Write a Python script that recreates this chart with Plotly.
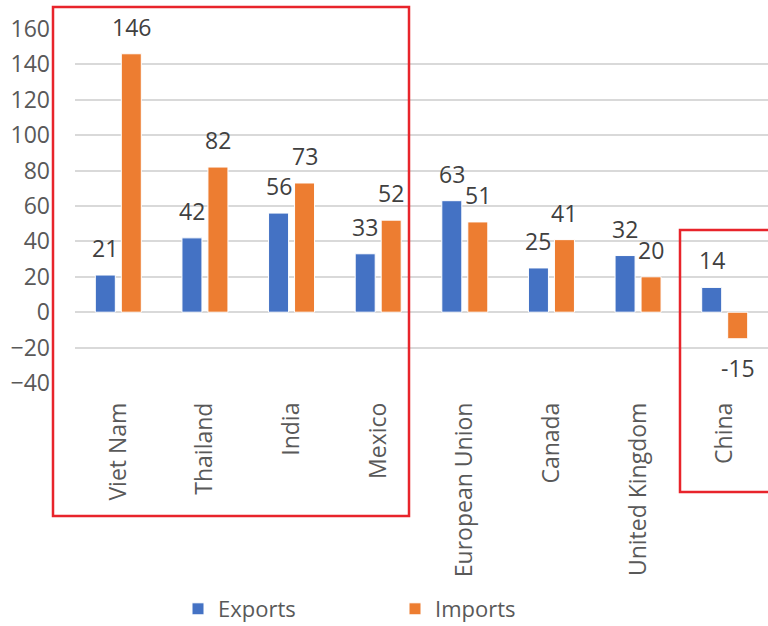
import plotly.graph_objects as go

# Trade change by partner (values shown as data labels)
countries = ["Viet Nam", "Thailand", "India", "Mexico",
             "European Union", "Canada", "United Kingdom", "China"]
exports = [21, 42, 56, 33, 63, 25, 32, 14]
imports = [146, 82, 73, 52, 51, 41, 20, -15]
y_ticks = [-40, -20, 0, 20, 40, 60, 80, 100, 120, 140, 160]

# Figure geometry (pixels)
W, H = 768, 626
ML, MR, MT, MB = 75, 0, 29, 243
PW, PH = W - ML - MR, H - MT - MB

BLUE = "#4472C4"
ORANGE = "#ED7D31"
TXT = "#595959"
LBL = "#404040"
FONT = "Open Sans"

BARGAP = 0.40
GROUPGAP = 0.23

fig = go.Figure()
fig.add_bar(x=countries, y=exports, name="Exports", marker_color=BLUE,
            marker_line=dict(color="white", width=1))
fig.add_bar(x=countries, y=imports, name="Imports", marker_color=ORANGE,
            marker_line=dict(color="white", width=1))

# Data labels placed just outside the end of each bar
cat_w = PW / len(countries)
slot = cat_w * (1 - BARGAP) / 2
annotations = []
for vals, shift in ((exports, -slot / 2), (imports, slot / 2)):
    for c, v in zip(countries, vals):
        annotations.append(dict(
            x=c, y=v, xref="x", yref="y", text=str(v), showarrow=False,
            xshift=shift, yshift=27 if v >= 0 else -29, yanchor="middle",
            font=dict(family=FONT, size=23, color=LBL)))


def px_x(p):
    return (p - ML) / PW


def px_y(p):
    return (H - MB - p) / PH


# Highlight boxes
box_style = dict(type="rect", xref="paper", yref="paper",
                 line=dict(color="#E8242B", width=2.5), fillcolor="rgba(0,0,0,0)")
shapes = [
    dict(x0=px_x(53), x1=px_x(409), y0=px_y(516), y1=px_y(7), **box_style),
    dict(x0=px_x(680), x1=px_x(790), y0=px_y(492), y1=px_y(230), **box_style),
]

fig.update_layout(
    width=W, height=H,
    margin=dict(l=ML, r=MR, t=MT, b=MB, autoexpand=False),
    paper_bgcolor="white", plot_bgcolor="white",
    barmode="group", bargap=BARGAP, bargroupgap=GROUPGAP,
    font=dict(family=FONT, size=23, color=TXT),
    annotations=annotations, shapes=shapes,
    showlegend=True,
    legend=dict(orientation="h", x=px_x(178), y=px_y(609),
                xanchor="left", yanchor="middle",
                entrywidth=172, entrywidthmode="pixels",
                font=dict(family=FONT, size=22, color=TXT),
                bgcolor="rgba(0,0,0,0)"),
    xaxis=dict(showgrid=False, showline=False, zeroline=False, ticks="",
               tickangle=-90, ticklabelstandoff=14,
               tickfont=dict(family=FONT, size=23, color=TXT)),
    yaxis=dict(range=[-40, 160], tickvals=y_ticks, showgrid=True,
               gridcolor="#D9D9D9", gridwidth=1.5, zeroline=True,
               zerolinecolor="#D9D9D9", zerolinewidth=1.5, showline=False,
               ticks="", ticklabelstandoff=24,
               tickfont=dict(family=FONT, size=23, color=TXT)),
)

fig.write_html("out.html")
